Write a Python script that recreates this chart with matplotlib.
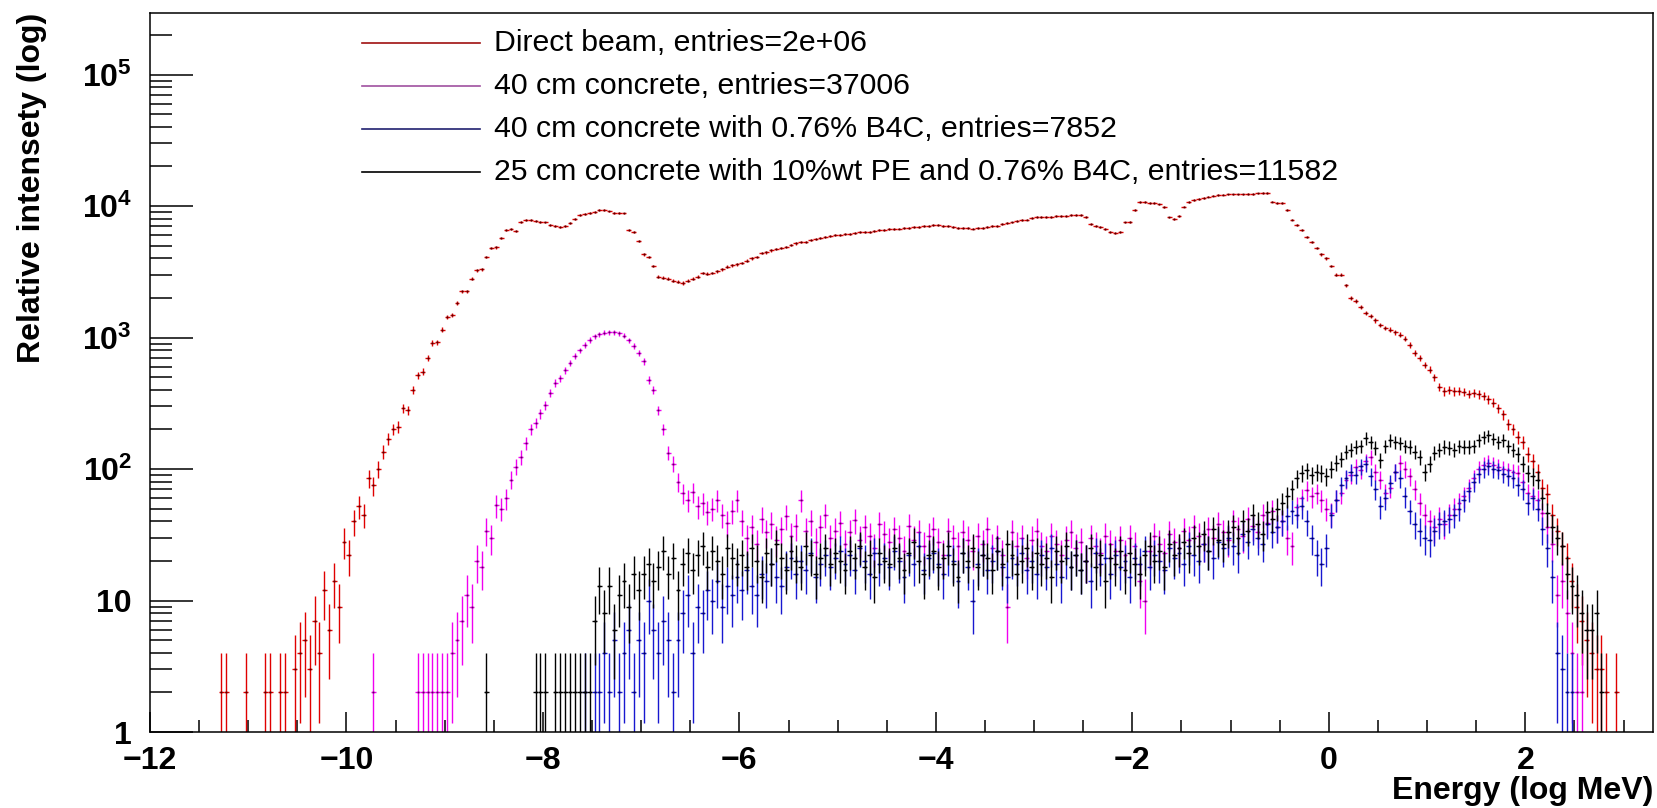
import numpy as np
import matplotlib
matplotlib.use("Agg")
import matplotlib.pyplot as plt
from matplotlib.lines import Line2D
from matplotlib.ticker import FixedLocator, LogLocator, MultipleLocator, NullFormatter

plt.rcParams['font.family'] = ['Liberation Sans', 'DejaVu Sans']
plt.rcParams['mathtext.fontset'] = 'custom'
plt.rcParams['mathtext.rm'] = 'Liberation Sans'
plt.rcParams['mathtext.bf'] = 'Liberation Sans:bold'

# histogram bins, 0.05 in log10(E/MeV); each list starts at the centre of its first bin
bin_width = 0.05

direct_start = -11.275
direct = [
    2, 2, 0, 0, 0, 2, 0, 0, 0, 2,
    2, 0, 2, 2, 0, 3, 4, 5, 3, 7,
    4, 12, 6, 14, 9, 28, 22, 40, 52, 45,
    85, 75, 100, 135, 170, 200, 210, 290, 280, 400,
    515, 550, 700, 910, 920, 1150, 1440, 1480, 1830, 2240,
    2250, 2800, 3250, 3300, 4100, 4800, 4850, 5700, 6600, 6700,
    6500, 7550, 7800, 7800, 7700, 7600, 7500, 7200, 7000, 6900,
    7100, 7400, 8000, 8500, 8700, 8900, 9000, 9300, 9300, 9100,
    8900, 8900, 8800, 6600, 6300, 5400, 4300, 4100, 3500, 2900,
    2850, 2800, 2700, 2650, 2600, 2700, 2800, 2900, 3100, 3050,
    3100, 3200, 3300, 3450, 3550, 3600, 3700, 3850, 4000, 4100,
    4400, 4450, 4600, 4700, 4800, 4900, 5050, 5200, 5300, 5350,
    5500, 5600, 5700, 5800, 5900, 6000, 6000, 6100, 6150, 6200,
    6300, 6350, 6400, 6500, 6550, 6600, 6650, 6700, 6750, 6800,
    6850, 6900, 6900, 7000, 7100, 7200, 7200, 7100, 7000, 6900,
    6850, 6800, 6800, 6750, 6800, 6850, 6900, 7000, 7100, 7300,
    7400, 7500, 7700, 7800, 7900, 8100, 8300, 8300, 8300, 8300,
    8400, 8400, 8400, 8500, 8500, 8600, 8300, 7300, 7000, 6900,
    6700, 6400, 6200, 6300, 7500, 7600, 9300, 10700, 10700, 10600,
    10500, 10300, 9800, 8200, 8000, 8400, 9900, 10700, 11100, 11300,
    11500, 11800, 12000, 12100, 12200, 12300, 12300, 12300, 12300, 12400,
    12400, 12500, 12600, 12600, 10800, 10600, 10500, 9300, 7900, 7200,
    6600, 5800, 5300, 4800, 4300, 4000, 3500, 3000, 3000, 2500,
    2000, 1900, 1700, 1550, 1450, 1350, 1250, 1180, 1150, 1100,
    1050, 980, 880, 760, 700, 620, 570, 500, 420, 390,
    400, 390, 395, 385, 375, 380, 370, 360, 340, 320,
    290, 260, 220, 200, 175, 160, 130, 115, 95, 72,
    65, 45, 34, 26, 21, 14, 9, 7, 5, 4,
    3, 3, 2, 0, 2,
]

concrete_start = -9.725
concrete = [
    2, 0, 0, 0, 0, 0, 0, 0, 0, 2,
    2, 2, 2, 2, 2, 2, 4, 5, 7, 11,
    9, 20, 18, 34, 30, 53, 50, 60, 83, 104,
    123, 158, 200, 225, 265, 307, 380, 450, 490, 565,
    640, 730, 800, 880, 960, 1020, 1060, 1090, 1100, 1100,
    1080, 1030, 950, 860, 760, 660, 475, 400, 280, 200,
    133, 110, 80, 66, 58, 67, 52, 55, 47, 50,
    58, 45, 39, 48, 58, 40, 30, 36, 27, 42,
    33, 38, 29, 35, 44, 31, 37, 58, 34, 40,
    28, 36, 45, 30, 34, 39, 27, 33, 41, 29,
    36, 31, 25, 38, 32, 28, 35, 30, 24, 37,
    29, 33, 26, 31, 35, 28, 22, 34, 30, 26,
    33, 29, 24, 31, 27, 35, 25, 30, 22, 9,
    33, 26, 30, 21, 29, 34, 26, 24, 31, 27,
    22, 29, 33, 25, 28, 20, 30, 26, 23, 31,
    27, 24, 29, 22, 30, 26, 14, 10, 24, 31,
    27, 23, 32, 28, 25, 34, 29, 36, 31, 27,
    35, 30, 38, 33, 29, 40, 35, 31, 42, 37,
    33, 45, 39, 48, 36, 40, 30, 26, 51, 60,
    69, 62, 66, 58, 50, 46, 58, 66, 83, 90,
    104, 98, 115, 123, 95, 83, 66, 72, 95, 112,
    100, 88, 70, 55, 45, 40, 36, 42, 38, 45,
    50, 55, 62, 72, 85, 100, 108, 112, 108, 104,
    100, 98, 95, 93, 80, 66, 62, 58, 46, 36,
    27, 11, 14, 8, 4, 2, 2,
]

b4c_start = -7.575
b4c = [
    2, 0, 2, 2, 4, 2, 5, 2, 4, 6,
    2, 5, 4, 10, 6, 4, 7, 5, 2, 5,
    8, 11, 4, 9, 8, 12, 10, 14, 9, 13,
    11, 15, 12, 17, 13, 11, 16, 14, 19, 15,
    13, 18, 21, 16, 20, 17, 23, 15, 19, 22,
    18, 21, 24, 19, 22, 17, 25, 20, 16, 23,
    19, 21, 18, 24, 20, 15, 22, 19, 26, 17,
    21, 23, 19, 16, 22, 20, 14, 23, 18, 10,
    19, 22, 17, 20, 24, 18, 15, 21, 19, 23,
    17, 20, 16, 22, 18, 25, 19, 15, 21, 18,
    22, 17, 20, 14, 23, 19, 21, 16, 22, 18,
    20, 15, 21, 19, 24, 18, 22, 20, 17, 25,
    21, 23, 19, 26, 22, 20, 27, 24, 21, 28,
    25, 30, 26, 23, 32, 28, 35, 30, 27, 38,
    33, 36, 40, 44, 48, 45, 52, 40, 30, 22,
    19, 25, 45, 58, 75, 85, 95, 90, 105, 110,
    88, 70, 52, 60, 78, 95, 85, 62, 48, 38,
    34, 30, 29, 34, 38, 40, 42, 45, 50, 58,
    68, 80, 92, 100, 105, 100, 98, 92, 88, 85,
    75, 70, 55, 60, 50, 35, 25, 15, 4, 3,
    2, 2,
]

pe_start = -8.575
pe = [
    2, 0, 0, 0, 0, 0, 0, 0, 0, 0,
    2, 2, 2, 0, 2, 2, 2, 2, 2, 2,
    2, 2, 7, 13, 8, 13, 6, 11, 14, 9,
    16, 12, 16, 19, 14, 18, 24, 16, 21, 12,
    19, 23, 17, 22, 26, 18, 24, 20, 16, 25,
    21, 19, 22, 18, 25, 20, 15, 23, 19, 27,
    21, 17, 24, 20, 18, 26, 22, 16, 21, 25,
    19, 23, 20, 17, 24, 21, 26, 18, 22, 15,
    23, 20, 19, 25, 21, 17, 23, 28, 20, 16,
    22, 24, 18, 21, 26, 19, 15, 23, 20, 25,
    18, 22, 21, 17, 24, 19, 27, 22, 16, 20,
    25, 18, 23, 19, 21, 15, 24, 20, 26, 18,
    22, 17, 20, 25, 18, 22, 14, 21, 19, 24,
    17, 23, 19, 16, 22, 26, 20, 24, 18, 27,
    22, 25, 28, 23, 30, 26, 32, 24, 35, 29,
    27, 33, 36, 30, 40, 34, 45, 38, 32, 47,
    42, 50, 55, 62, 70, 85, 93, 98, 90, 95,
    93, 88, 100, 112, 120, 135, 140, 148, 150, 172,
    160, 145, 117, 150, 165, 160, 158, 150, 148, 135,
    123, 95, 110, 133, 140, 148, 145, 140, 150, 148,
    148, 150, 165, 175, 180, 170, 160, 165, 150, 140,
    130, 110, 93, 88, 83, 60, 46, 36, 30, 26,
    16, 13, 11, 8, 6, 6, 8, 2,
]

labels = [
    "Direct beam, entries=2e+06",
    "40 cm concrete, entries=37006",
    "40 cm concrete with 0.76% B4C, entries=7852",
    "25 cm concrete with 10%wt PE and 0.76% B4C, entries=11582",
]
bar_colours = ["#e00000", "#f000f0", "#1818d0", "black"]
dot_colours = ["#500000", "#600060", "#000050", "black"]
legend_colours = ["#a01010", "#a050a0", "#202070", "black"]


def draw_hist(ax, start, counts, bar_colour, dot_colour):
    e = start + bin_width * np.arange(len(counts))
    c = np.asarray(counts, dtype=float)
    keep = c > 0
    e, c = e[keep], c[keep]
    err = np.sqrt(2 * c)
    low = np.minimum(err, c - 0.01)
    ax.errorbar(e, c, xerr=bin_width / 2, yerr=[low, err], fmt='none',
                ecolor=bar_colour, elinewidth=1.0, capsize=0)
    ax.plot(e, c, ls='none', marker='s', ms=1.3, mew=0, color=dot_colour)


W, H = 1658, 808
fig = plt.figure(figsize=(W / 100, H / 100), dpi=100)
ax = fig.add_axes([150 / W, 76 / H, 1503 / W, 719 / H])

series = [(direct_start, direct), (concrete_start, concrete),
          (b4c_start, b4c), (pe_start, pe)]
for (start, counts), bc, dc in zip(series, bar_colours, dot_colours):
    draw_hist(ax, start, counts, bc, dc)

ax.set_yscale('log')
ax.set_xlim(-12, 3.3)
ax.set_ylim(1, 2.94e5)

ax.xaxis.set_major_locator(MultipleLocator(2))
ax.xaxis.set_minor_locator(MultipleLocator(0.5))
ax.yaxis.set_major_locator(FixedLocator([1, 10, 1e2, 1e3, 1e4, 1e5]))
ax.yaxis.set_minor_locator(LogLocator(base=10, subs=np.arange(2, 10)))
ax.yaxis.set_minor_formatter(NullFormatter())
ax.set_yticklabels(['1', '10', r'$\mathbf{10^{2}}$', r'$\mathbf{10^{3}}$',
                    r'$\mathbf{10^{4}}$', r'$\mathbf{10^{5}}$'])

ax.tick_params(which='both', direction='in', top=False, right=False,
               width=1.1, labelsize=23)
ax.tick_params(axis='x', which='major', length=14.5, pad=10)
ax.tick_params(axis='x', which='minor', length=8.6)
ax.tick_params(axis='y', which='major', length=31, pad=13)
ax.tick_params(axis='y', which='minor', length=16)
for lab in ax.get_xticklabels() + ax.get_yticklabels():
    lab.set_fontweight('bold')
for sp in ax.spines.values():
    sp.set_linewidth(1.1)

fig.text(1653 / W, 1 - 791 / H, "Energy (log MeV)", ha='right', va='center',
         fontsize=23, fontweight='bold')
fig.text(32 / W, 1 - 13 / H, "Relative intensety (log)", ha='center', va='top',
         rotation=90, fontsize=23, fontweight='bold')

# legend drawn by hand, no frame
rows = [43, 86, 129, 172]
for y, lab, col in zip(rows, labels, legend_colours):
    yf = 1 - y / H
    fig.add_artist(Line2D([362 / W, 480 / W], [yf, yf], color=col, lw=1.2))
    fig.text(494 / W, yf, lab, ha='left', va='center', fontsize=21.8)

fig.savefig("out.png", dpi=100)
